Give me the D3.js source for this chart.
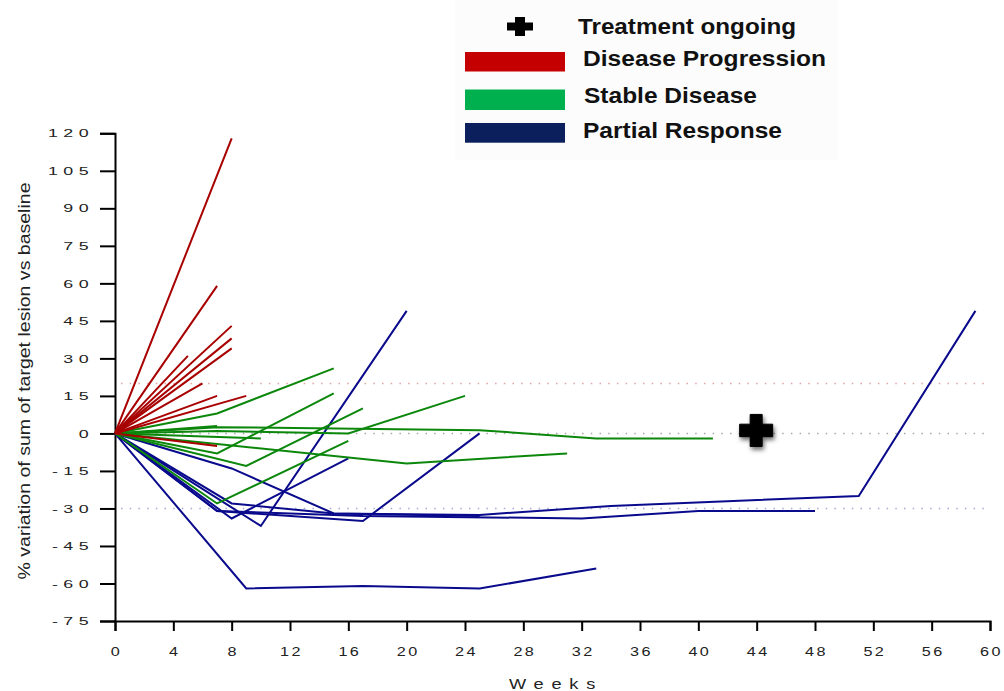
<!DOCTYPE html>
<html><head><meta charset="utf-8">
<script src="https://cdn.jsdelivr.net/npm/d3@7"></script>
<style>
html,body{margin:0;padding:0;background:#fff;}
svg{display:block;font-family:"Liberation Sans",Arial,sans-serif;}
</style></head>
<body>
<svg id="chart" width="1004" height="691"></svg>
<script>
// ---- data ----
const xTicks = [0,4,8,12,16,20,24,28,32,36,40,44,48,52,56,60];
const yTicks = [-75,-60,-45,-30,-15,0,15,30,45,60,75,90,105,120];
const refValues = [20, 0, -30];

// Disease progression: each line from baseline (0,0) to an end point
const pdWeeks  = [8, 7, 8, 8, 8, 5, 6, 7, 9, 7];
const pdValues = [118, 59, 43, 38, 34, 31, 20, 15, 15, -5];

// Stable disease
const sdWeeks = [
  [0,7,15],[0,7,15],[0,9,17],[0,7,16],[0,7,16,24],[0,20,31],[0,7,25,33,41],[0,7],[0,10]
];
const sdValues = [
  [0,8,26],[0,-8,16],[0,-13,10],[0,-28,-3],[0,1,0,15],[0,-12,-8],[0,2.5,1.3,-2,-2],[0,3],[0,-2]
];

// Partial response
const prWeeks = [
  [0,9,17,25,33],[0,10,20],[0,8,16],[0,8,15,25,34,51,59],[0,8,15,25],[0,7,17,25],[0,7,17,32,40,48]
];
const prValues = [
  [0,-62,-61,-62,-54],[0,-37,49],[0,-34,-10],[0,-14,-32,-32.6,-29,-25,49],[0,-28,-32,-33],[0,-31,-35,0],[0,-31,-33,-34,-31,-31]
];

// Treatment ongoing marker
const ongoingWeek = 44, ongoingValue = 1;

const legendLabels = ["Treatment ongoing","Disease Progression","Stable Disease","Partial Response"];

// ---- drawing ----
const svg = d3.select("#chart");
const x = d3.scaleLinear().domain([0,60]).range([115,990]);
const y = d3.scaleLinear().domain([-75,120]).range([621,133.3]);

const defs = svg.append("defs");
const f = defs.append("filter").attr("id","shadow").attr("x","-50%").attr("y","-50%").attr("width","200%").attr("height","200%");
f.append("feDropShadow").attr("dx",1.5).attr("dy",3).attr("stdDeviation",2.2).attr("flood-color","#000").attr("flood-opacity",0.55);

// legend background
svg.append("rect").attr("x",455).attr("y",0).attr("width",383).attr("height",160).attr("fill","#fcfcfc");

// reference dotted lines
const refColors = ["#e3a3a3","#a8a8a8","#a8a8d8"];
svg.selectAll("line.ref").data(refValues).join("line")
  .attr("class","ref")
  .attr("x1",x(0)+6).attr("x2",x(60))
  .attr("y1",d=>y(d)).attr("y2",d=>y(d))
  .attr("stroke",(d,i)=>refColors[i]).attr("stroke-width",1.5)
  .attr("stroke-dasharray","1.5,7.2");

// axes
const yAxis = d3.axisLeft(y).tickValues(yTicks).tickSize(15).tickFormat("");
const gy = svg.append("g").attr("transform","translate(115,0)").call(yAxis);
gy.select(".domain").attr("stroke","#000").attr("stroke-width",2);
gy.selectAll(".tick line").attr("stroke","#000").attr("stroke-width",2);

const xAxis = d3.axisBottom(x).tickValues(xTicks).tickSize(10).tickFormat("");
const gx = svg.append("g").attr("transform","translate(0,621)").call(xAxis);
gx.select(".domain").attr("stroke","#000").attr("stroke-width",2);
gx.selectAll(".tick line").attr("stroke","#000").attr("stroke-width",2);

// y tick labels (stretched, spaced)
svg.selectAll("text.ylab").data(yTicks).join("text")
  .attr("class","ylab")
  .attr("transform",d=>`translate(94,${y(d)}) scale(1.55,1)`)
  .attr("text-anchor","end").attr("dy","0.36em")
  .attr("font-size",11.5).attr("letter-spacing",3.5).attr("fill","#222")
  .text(d=>d);

// x tick labels
svg.selectAll("text.xlab").data(xTicks).join("text")
  .attr("class","xlab")
  .attr("transform",d=>`translate(${x(d)+1.5},655.5) scale(1.35,1)`)
  .attr("text-anchor","middle")
  .attr("font-size",12).attr("letter-spacing",1.8).attr("fill","#222")
  .text(d=>d);

// axis titles
svg.append("text").attr("transform","translate(556,689) scale(1.3,1)")
  .attr("text-anchor","middle").attr("font-size",14).attr("letter-spacing",6).attr("fill","#222").text("Weeks");
svg.append("text").attr("transform","translate(30,381) rotate(-90)")
  .attr("text-anchor","middle").attr("font-size",16).attr("fill","#222")
  .attr("textLength",397).attr("lengthAdjust","spacingAndGlyphs")
  .text("% variation of sum of target lesion vs baseline");

// lines
const line = d3.line().x(d=>x(d[0])).y(d=>y(d[1]));
const prData = prWeeks.map((w,i)=>w.map((wk,j)=>[wk,prValues[i][j]]));
const sdData = sdWeeks.map((w,i)=>w.map((wk,j)=>[wk,sdValues[i][j]]));
const pdData = pdWeeks.map((w,i)=>[[0,0],[w,pdValues[i]]]);

const lg = svg.append("g").attr("fill","none").attr("stroke-width",2).attr("stroke-linejoin","miter");
lg.selectAll("path.pr").data(prData).join("path").attr("class","pr").attr("d",line).attr("stroke","#0a0a8c");
lg.selectAll("path.sd").data(sdData).join("path").attr("class","sd").attr("d",line).attr("stroke","#0b870b");
lg.selectAll("path.pd").data(pdData).join("path").attr("class","pd").attr("d",line).attr("stroke","#a80000");

// plus marker
function plusPath(cx, cy, w, h, tv, th){
  const a=w/2, b=h/2, v=tv/2, t=th/2;
  return `M${cx-v},${cy-b}H${cx+v}V${cy-t}H${cx+a}V${cy+t}H${cx+v}V${cy+b}H${cx-v}V${cy+t}H${cx-a}V${cy-t}H${cx-v}Z`;
}
svg.append("path").attr("d",plusPath(x(ongoingWeek)-0.5,y(ongoingValue)-0.5,33,32,12,12.5))
  .attr("fill","#000").attr("stroke","#000").attr("stroke-width",1).attr("stroke-linejoin","round")
  .attr("filter","url(#shadow)");

// legend
svg.append("path").attr("d",plusPath(520,26.5,26,19,10,8)).attr("fill","#000");
const legColors = ["#c40000","#00b04f","#0b1f5c"];
const legY = [52,89.5,123];
const legH = [19.5,20.5,19.7];
svg.selectAll("rect.leg").data(legColors).join("rect").attr("class","leg")
  .attr("x",465).attr("y",(d,i)=>legY[i]).attr("width",100).attr("height",(d,i)=>legH[i]).attr("fill",d=>d);
const legTx = [578,583,584,583];
const legTy = [34.3,65.7,103,138];
const legTl = [218,243,173,199];
svg.selectAll("text.legt").data(legendLabels).join("text").attr("class","legt")
  .attr("x",(d,i)=>legTx[i]).attr("y",(d,i)=>legTy[i])
  .attr("textLength",(d,i)=>legTl[i]).attr("lengthAdjust","spacingAndGlyphs")
  .attr("font-size",21.5).attr("font-weight","bold").attr("fill","#111")
  .text(d=>d);
</script>
</body></html>
